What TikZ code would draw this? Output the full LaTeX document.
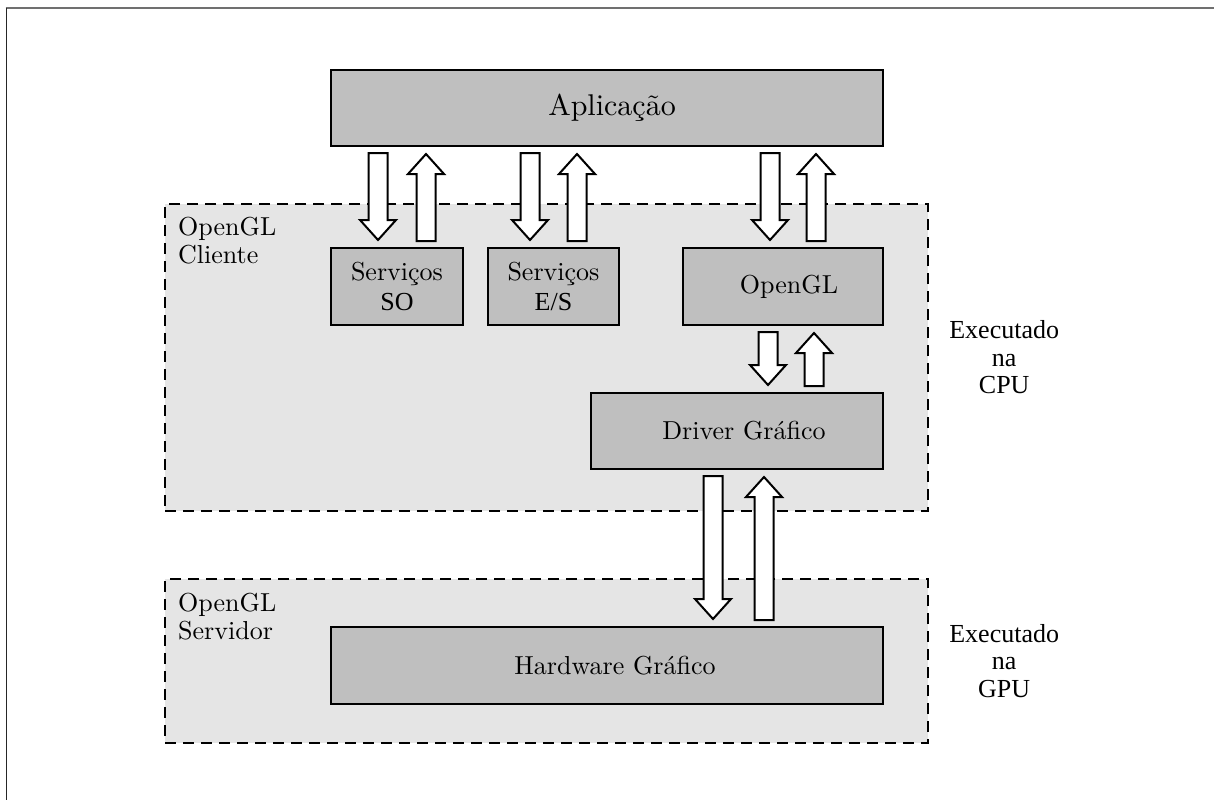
\documentclass[tikz,border=0pt]{standalone}
\usepackage{fontspec}
\setmainfont{lmroman10-regular.otf}[BoldFont=lmroman10-bold.otf, ItalicFont=lmroman10-italic.otf]
\newfontfamily\timesfont{Liberation Serif}
\usetikzlibrary{calc}
\definecolor{boxgray}{RGB}{191,191,191}
\definecolor{regiongray}{RGB}{229,229,229}
\definecolor{framegray}{RGB}{112,112,112}
\tikzset{
  region/.style={draw, line width=2.4pt, dash pattern=on 11pt off 7pt, fill=regiongray, inner sep=0pt},
  layer/.style={draw, line width=2pt, fill=boxgray, inner sep=0pt, align=center,
    font=\fontsize{26}{30}\selectfont},
  regionlabel/.style={inner sep=0pt, align=left, font=\fontsize{26}{28}\selectfont},
  sidelabel/.style={inner sep=0pt, align=center, font=\timesfont\fontsize{26}{27.5}\selectfont},
  blockarrow/.style={draw, fill=white, line width=2pt, line join=miter},
}
% hollow block arrow: #1 x position, #2 source anchor, #3 target anchor,
% #4 = 1 for a downward arrow, -1 for an upward one
\newcommand\blkarrow[4]{%
  \draw[blockarrow] let \p1=(#2), \p2=(#3), \n1={#4} in
    ({#1pt-9.5pt},{\y1-\n1*6pt}) -- ({#1pt-9.5pt},{\y2+\n1*27pt})
    -- ({#1pt-18pt},{\y2+\n1*27pt}) -- ({#1pt},{\y2+\n1*7pt})
    -- ({#1pt+18pt},{\y2+\n1*27pt}) -- ({#1pt+9.5pt},{\y2+\n1*27pt})
    -- ({#1pt+9.5pt},{\y1-\n1*6pt}) -- cycle;}
\begin{document}
\begin{tikzpicture}[x=1pt, y=-1pt]
\useasboundingbox (0,0) rectangle (1214,800);
% page frame
\draw[framegray, line width=2pt] (5.5,8.5) -- (1214,8.5);
\draw[black!85, line width=1.6pt] (6.5,8.5) -- (6.5,800);

% client and server regions
\node[region, minimum width=763pt, minimum height=307pt] (client) at (546.5,357.5) {};
\node[region, minimum width=763pt, minimum height=164pt] (server) at (546.5,661) {};
\node[regionlabel, anchor=north west] (clientlbl) at (178,217) {OpenGL\\Cliente};
\node[regionlabel, anchor=north west] (serverlbl) at (178,593) {OpenGL\\Servidor};
\node[sidelabel] (cpu) at ([xshift=75pt]client.east) {Executado\\na\\CPU};
\node[sidelabel] (gpu) at ([xshift=75pt]server.east) {Executado\\na\\GPU};

% layers
\node[layer, minimum width=552pt, minimum height=76pt, font=\fontsize{30}{34}\selectfont]
  (app) at (607,108) {\hspace*{10pt}Aplicação};
\node[layer, minimum width=132pt, minimum height=77pt] (so) at (397,286.5)
  {Serviços\\{\timesfont SO}};
\node[layer, minimum width=131pt, minimum height=77pt] (es) at (553.5,286.5)
  {Serviços\\{\timesfont E/S}};
\node[layer, minimum width=200pt, minimum height=77pt] (ogl) at (783,286.5)
  {\hspace*{12pt}OpenGL};
\node[layer, minimum width=292pt, minimum height=76pt] (drv) at (737,431)
  {\hspace*{14pt}Driver Gráfico};
\node[layer, minimum width=552pt, minimum height=77pt] (hw) at (607,665.5)
  {\hspace*{16pt}Hardware Gráfico};

% data flow between the layers
\blkarrow{378}{app.south}{so.north}{1}
\blkarrow{426}{so.north}{app.south}{-1}
\blkarrow{530}{app.south}{es.north}{1}
\blkarrow{577}{es.north}{app.south}{-1}
\blkarrow{770}{app.south}{ogl.north}{1}
\blkarrow{816}{ogl.north}{app.south}{-1}
\blkarrow{768}{ogl.south}{drv.north}{1}
\blkarrow{814}{drv.north}{ogl.south}{-1}
\blkarrow{713}{drv.south}{hw.north}{1}
\blkarrow{764}{hw.north}{drv.south}{-1}
\end{tikzpicture}
\end{document}
